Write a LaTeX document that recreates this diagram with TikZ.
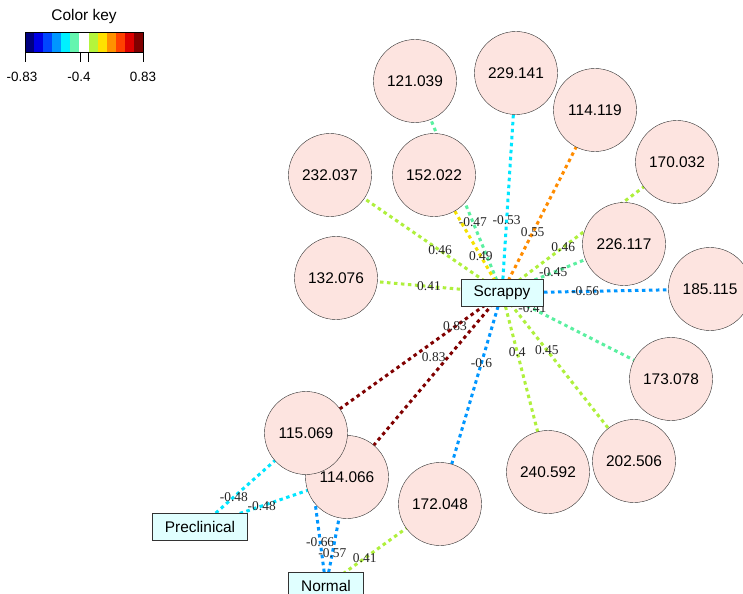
\documentclass[tikz,border=0pt]{standalone}
\usepackage{fontspec}
\setmainfont{Liberation Serif}
\setsansfont{Liberation Sans}
\usetikzlibrary{positioning, backgrounds}

\definecolor{nodefill}{RGB}{253,228,224}
\definecolor{boxfill}{RGB}{224,255,255}
\definecolor{cRed}{RGB}{128,0,0}
\definecolor{cBlue}{RGB}{0,150,255}
\definecolor{cCyan}{RGB}{0,230,255}
\definecolor{cAqua}{RGB}{90,240,160}
\definecolor{cLime}{RGB}{175,240,60}
\definecolor{cYellow}{RGB}{245,225,0}
\definecolor{cOrange}{RGB}{255,140,0}
% colour key
\definecolor{k1}{RGB}{0,0,128}
\definecolor{k2}{RGB}{0,0,230}
\definecolor{k3}{RGB}{0,70,255}
\definecolor{k4}{RGB}{0,150,255}
\definecolor{k5}{RGB}{0,240,255}
\definecolor{k6}{RGB}{100,245,175}
\definecolor{k7}{RGB}{255,255,255}
\definecolor{k8}{RGB}{180,245,60}
\definecolor{k9}{RGB}{255,225,0}
\definecolor{k10}{RGB}{255,145,0}
\definecolor{k11}{RGB}{255,65,0}
\definecolor{k12}{RGB}{220,0,0}
\definecolor{k13}{RGB}{128,0,0}

\begin{document}
\begin{tikzpicture}[
    x=1bp, y=-1bp,
    metab/.style={circle, draw=black!80, fill=nodefill, minimum size=83bp, inner sep=0pt,
        font=\sffamily\fontsize{15.5}{18}\selectfont},
    group/.style={draw=black!80, fill=boxfill, minimum height=27bp, inner xsep=12.5bp,
        font=\sffamily\fontsize{15.5}{18}\selectfont},
    link/.style={line width=3bp, dash pattern=on 3.5bp off 3.5bp},
    wt/.style={text=black!85, inner sep=0pt, font=\fontsize{13.5}{15}\selectfont}
]
\useasboundingbox (0,0) rectangle (743,594);

% Colour key
\node[font=\sffamily\fontsize{15.5}{18}\selectfont] (keytitle) at (84,17) {Color key};
\foreach \c [count=\i from 0] in {k1,k2,k3,k4,k5,k6,k7,k8,k9,k10,k11,k12,k13}
    \fill[\c] (25+\i*9.077,32) rectangle ++(9.077,20);
\draw (25,32) rectangle (143,52);
\foreach \t in {25,80,88,143}
    \draw (\t,52) -- (\t,62);
\node[font=\sffamily\fontsize{13.5}{16}\selectfont] (kmin) at (22,77) {-0.83};
\node[font=\sffamily\fontsize{13.5}{16}\selectfont] (kmid) at (79,77) {-0.4};
\node[font=\sffamily\fontsize{13.5}{16}\selectfont] (kmax) at (143,77) {0.83};

% Nodes
\node[group] (S) at (502,293) {Scrappy};
\node[group] (pre) at (200,527) {Preclinical};
\node[group] (norm) at (326,586) {Normal};

\node[metab] (m121) at (415,81) {121.039};
\node[metab] (m229) at (516,73) {229.141};
\node[metab] (m114a) at (595,110) {114.119};
\node[metab] (m232) at (330,175) {232.037};
\node[metab] (m152) at (434,175) {152.022};
\node[metab] (m170) at (677,162) {170.032};
\node[metab] (m226) at (624,244) {226.117};
\node[metab] (m185) at (710,289) {185.115};
\node[metab] (m132) at (336,278) {132.076};
\node[metab] (m173) at (671,379) {173.078};
\node[metab] (m202) at (634,461) {202.506};
\node[metab] (m240) at (548,472) {240.592};
\node[metab] (m172) at (440,504) {172.048};
\node[metab] (m114b) at (347,477) {114.066};
\node[metab] (m115) at (306,433) {115.069};

% Edges
\begin{scope}[on background layer]
\fill[white] (0,0) rectangle (743,594);
\draw[link, cCyan] (S.center) -- node[wt, pos=0.33] {-0.53} (m229.center);
\draw[link, cAqua] (S.center) -- node[wt, pos=0.335] {-0.47} (m121.center);
\draw[link, cYellow] (S.center) -- node[wt, pos=0.31] {0.49} (m152.center);
\draw[link, cLime] (S.center) -- node[wt, pos=0.36] {0.46} (m232.center);
\draw[link, cLime] (S.center) -- node[wt, pos=0.44] {0.41} (m132.center);
\draw[link, cOrange] (S.center) -- node[wt, pos=0.33] {0.55} (m114a.center);
\draw[link, cLime] (S.center) -- node[wt, pos=0.35] {0.46} (m170.center);
\draw[link, cAqua] (S.center) -- node[wt, pos=0.42] {-0.45} (m226.center);
\draw[link, cBlue] (S.center) -- node[wt, pos=0.40] {-0.56} (m185.center);
\draw[link, cAqua] (S.center) -- node[wt, pos=0.18] {-0.41} (m173.center);
\draw[link, cLime] (S.center) -- node[wt, pos=0.34] {0.45} (m202.center);
\draw[link, cLime] (S.center) -- node[wt, pos=0.33] {0.4} (m240.center);
\draw[link, cBlue] (S.center) -- node[wt, pos=0.33] {-0.6} (m172.center);
\draw[link, cRed] (S.center) -- node[wt, pos=0.24] {0.83} (m115.center);
\draw[link, cRed] (S.center) -- node[wt, pos=0.35, xshift=-14bp] {0.83} (m114b.center);
\draw[link, cCyan] (pre.center) -- node[wt, pos=0.32] {-0.48} (m115.center);
\draw[link, cCyan] (pre.center) -- node[wt, pos=0.42] {-0.48} (m114b.center);
\draw[link, cBlue] (norm.center) -- node[wt, pos=0.29] {-0.66} (m115.center);
\draw[link, cBlue] (norm.center) -- node[wt, pos=0.30] {-0.57} (m114b.center);
\draw[link, cLime] (norm.center) -- node[wt, pos=0.34] {0.41} (m172.center);
\end{scope}

\end{tikzpicture}
\end{document}
